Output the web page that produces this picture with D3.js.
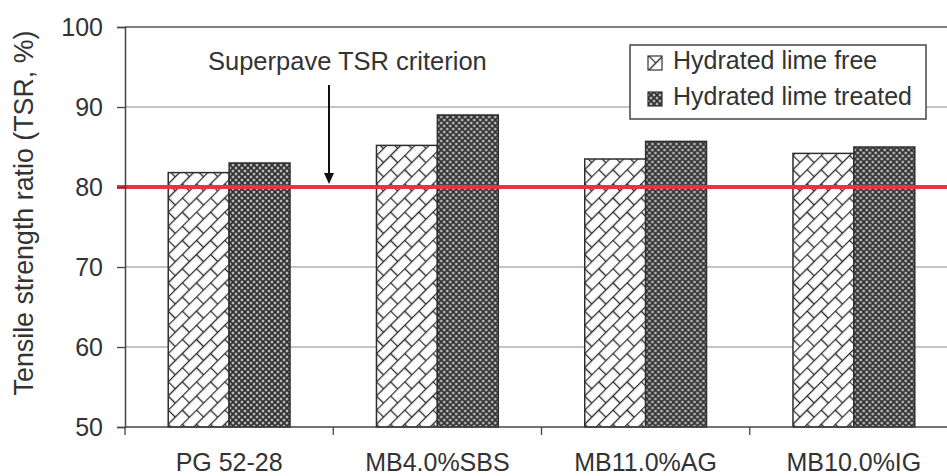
<!DOCTYPE html>
<html>
<head>
<meta charset="utf-8">
<script src="https://cdn.jsdelivr.net/npm/d3@7"></script>
<style>
  html, body { margin: 0; padding: 0; background: #fff; }
  svg { display: block; }
  text { font-family: "Liberation Sans", Arial, sans-serif; fill: #333; }
</style>
</head>
<body>
<svg id="chart" width="947" height="476"></svg>
<script>
// Tensile strength ratio by binder, with and without hydrated lime
const categories = ["PG 52-28", "MB4.0%SBS", "MB11.0%AG", "MB10.0%IG"];
const limeFree = [81.8, 85.2, 83.5, 84.2];
const limeTreated = [83.0, 89.0, 85.7, 85.0];
const seriesNames = ["Hydrated lime free", "Hydrated lime treated"];
const yTicks = [50, 60, 70, 80, 90, 100];
const criterion = 80;
const criterionLabel = "Superpave TSR criterion";
const yLabel = "Tensile strength ratio (TSR, %)";

const svg = d3.select("#chart");
const plotLeft = 125, plotRight = 958, plotTop = 27, plotBottom = 427;

const y = d3.scaleLinear().domain([50, 100]).range([plotBottom, plotTop]);
const x = d3.scaleBand().domain(categories).range([plotLeft, plotRight]).paddingInner(0).paddingOuter(0);
const xs = d3.scaleBand().domain(["free", "treated"]).range([0, x.bandwidth()]).paddingInner(0).paddingOuter(0.71);

// Fill patterns
const defs = svg.append("defs");
const brick = defs.append("pattern")
  .attr("id", "brick").attr("patternUnits", "userSpaceOnUse")
  .attr("width", 20).attr("height", 20)
  .attr("patternTransform", "rotate(-45)");
brick.append("rect").attr("width", 20).attr("height", 20).attr("fill", "#fff");
const bp = brick.append("g").attr("stroke", "#2a2a2a").attr("stroke-width", 1.4);
bp.append("line").attr("x1", 0).attr("y1", 0.5).attr("x2", 20).attr("y2", 0.5);
bp.append("line").attr("x1", 0).attr("y1", 10.5).attr("x2", 20).attr("y2", 10.5);
bp.append("line").attr("x1", 0.5).attr("y1", 0).attr("x2", 0.5).attr("y2", 10.5);
bp.append("line").attr("x1", 10.5).attr("y1", 10.5).attr("x2", 10.5).attr("y2", 20);

const cross = defs.append("pattern")
  .attr("id", "cross").attr("patternUnits", "userSpaceOnUse")
  .attr("width", 6).attr("height", 6);
cross.append("rect").attr("width", 6).attr("height", 6).attr("fill", "#6a6a6a");
cross.append("path").attr("d", "M0,0L6,6M6,0L0,6").attr("stroke", "#2c2c2c").attr("stroke-width", 1.1);
[[3, 0], [0, 3], [6, 3], [3, 6]].forEach(([cx, cy]) =>
  cross.append("circle").attr("cx", cx).attr("cy", cy).attr("r", 1.1).attr("fill", "#c8c8c8"));

// Gridlines
svg.append("g").selectAll("line")
  .data(yTicks.filter(t => t !== 50 && t !== criterion))
  .join("line")
  .attr("x1", plotLeft).attr("x2", 947)
  .attr("y1", d => y(d)).attr("y2", d => y(d))
  .attr("stroke", d => d === 100 ? "#555" : "#8a8a8a")
  .attr("stroke-width", d => d === 100 ? 1.5 : 1.2);

// Bars
const groups = svg.append("g").selectAll("g")
  .data(categories.map((c, i) => ({ c, vals: [["free", limeFree[i]], ["treated", limeTreated[i]]] })))
  .join("g")
  .attr("transform", d => `translate(${x(d.c)},0)`);
groups.selectAll("rect")
  .data(d => d.vals)
  .join("rect")
  .attr("x", d => xs(d[0]))
  .attr("width", xs.bandwidth())
  .attr("y", d => y(d[1]))
  .attr("height", d => y(50) - y(d[1]))
  .attr("fill", d => d[0] === "free" ? "url(#brick)" : "url(#cross)")
  .attr("stroke", "#2e2e2e")
  .attr("stroke-width", 1.5);

// Criterion line
svg.append("line")
  .attr("x1", plotLeft - 8).attr("x2", 947)
  .attr("y1", y(criterion)).attr("y2", y(criterion))
  .attr("stroke", "#e5373b").attr("stroke-width", 4);

// Y axis
const yAxis = svg.append("g")
  .attr("transform", `translate(${plotLeft},0)`)
  .call(d3.axisLeft(y).tickValues(yTicks).tickSize(8).tickPadding(14).tickFormat(d3.format("d")));
yAxis.select(".domain").attr("stroke", "#444").attr("stroke-width", 1.5);
yAxis.selectAll(".tick line").attr("stroke", "#444").attr("stroke-width", 1.3);
yAxis.selectAll("text").style("font-size", "25px").attr("fill", "#333");

// X axis
svg.append("line")
  .attr("x1", plotLeft).attr("x2", 947).attr("y1", plotBottom).attr("y2", plotBottom)
  .attr("stroke", "#444").attr("stroke-width", 1.5);
const bounds = categories.map(c => x(c)).concat([x.range()[1]]);
svg.append("g").selectAll("line").data(bounds).join("line")
  .attr("x1", d => d).attr("x2", d => d)
  .attr("y1", plotBottom).attr("y2", plotBottom + 8)
  .attr("stroke", "#444").attr("stroke-width", 1.3);
const xAxis = svg.append("g")
  .attr("transform", `translate(0,${plotBottom})`)
  .call(d3.axisBottom(x).tickSize(0).tickPadding(26));
xAxis.select(".domain").remove();
xAxis.selectAll("text").style("font-size", "25px").attr("fill", "#333");

// Y axis title
svg.append("text")
  .attr("transform", "translate(33,213) rotate(-90)")
  .attr("text-anchor", "middle")
  .style("font-size", "26.8px")
  .text(yLabel);

// Annotation with arrow
svg.append("text")
  .attr("x", 208).attr("y", 70)
  .style("font-size", "25.5px")
  .text(criterionLabel);
const ax = 329;
svg.append("line")
  .attr("x1", ax).attr("x2", ax).attr("y1", 85).attr("y2", y(criterion) - 12)
  .attr("stroke", "#111").attr("stroke-width", 2);
svg.append("path")
  .attr("d", `M${ax - 5},${y(criterion) - 14}L${ax + 5},${y(criterion) - 14}L${ax},${y(criterion) - 3}Z`)
  .attr("fill", "#111");

// Legend
const lg = svg.append("g");
lg.append("rect")
  .attr("x", 630).attr("y", 45).attr("width", 296).attr("height", 74)
  .attr("fill", "#fff").attr("stroke", "#444").attr("stroke-width", 1.5);
const rows = lg.selectAll("g.row").data(seriesNames).join("g")
  .attr("class", "row")
  .attr("transform", (d, i) => `translate(648,${56 + i * 36})`);
rows.append("rect")
  .attr("width", 14).attr("height", 14)
  .attr("fill", (d, i) => i === 0 ? "url(#brick)" : "url(#cross)")
  .attr("stroke", "#333").attr("stroke-width", 1.2);
rows.append("text")
  .attr("x", 25).attr("y", 13)
  .style("font-size", "25px")
  .text(d => d);
</script>
</body>
</html>
